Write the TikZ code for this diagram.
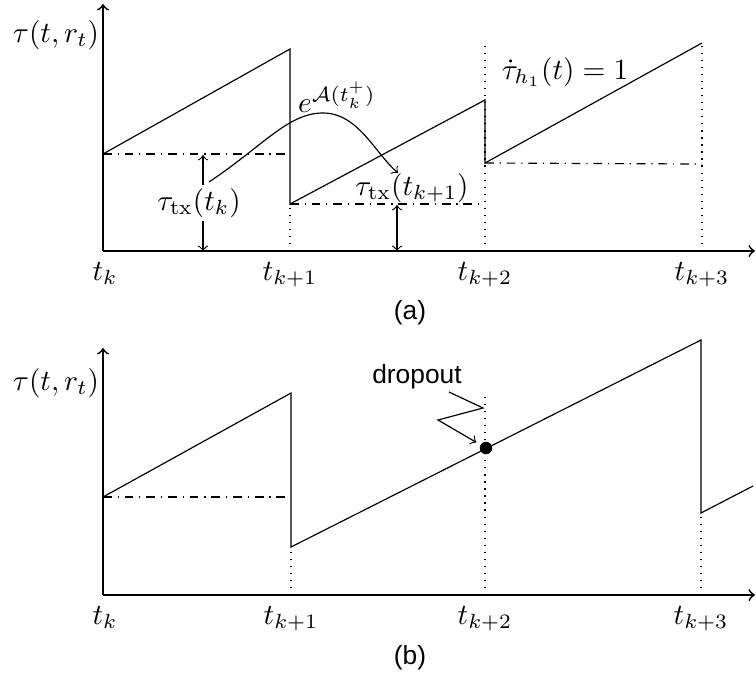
\documentclass[tikz,border=0pt]{standalone}
\usepackage{fontspec}
\newfontfamily\labelfont{Liberation Sans}
\begin{document}
\begin{tikzpicture}[x=1.2cm,y=1.2cm,
		axis/.style={semithick,->},
		level/.style={dash dot},
		guide/.style={dotted},
		sanslabel/.style={font=\labelfont\small}]
	\useasboundingbox (-1.03,-4.28) rectangle (6.53,2.51);
	
	% (a)
	\draw[axis] (0,0) -- (0,2.47);
	\draw[axis] (0,0) -- (6.52,0);
	\node (ya) at (-0.47,2.16) {$\tau(t,r_t)$};
	\foreach \x/\s [count=\i] in {0.02/k,1.87/k+1,3.82/k+2,5.99/k+3}
		\node[anchor=base] (ta\i) at (\x,-0.29) {$t_{\s}$};
	\draw (0,0.97) -- (1.87,2.02) -- (1.87,0.47) -- (3.82,1.51) -- (3.82,0.88) -- (5.99,2.08);
	\draw[level] (0,0.97) -- (1.87,0.97);
	\draw[level] (1.87,0.47) -- (3.82,0.47);
	\draw[level] (3.82,0.88) -- (5.99,0.87);
	\draw[guide] (1.87,0) -- (1.87,0.47);
	\draw[guide] (3.82,0) -- (3.82,2.06);
	\draw[guide] (5.99,0) -- (5.99,2.08);
	
	% intervalos de transmision
	\draw[<->] (1.00,0) -- (1.00,0.96);
	\node[fill=white,inner sep=1pt] (txa) at (0.96,0.48) {$\tau_{\mathrm{tx}}(t_k)$};
	\draw[<->] (2.94,0) -- (2.94,0.46);
	\node[inner sep=1pt] (txb) at (3.09,0.63) {$\tau_{\mathrm{tx}}(t_{k+1})$};
	
	\coordinate (ca) at (1.06,0.69);
	\coordinate (cb) at (2.95,0.78);
	\draw[->] (ca) .. controls (1.6,1.05) and (1.85,1.38) .. (2.20,1.38)
		.. controls (2.55,1.38) and (2.72,0.98) .. (cb);
	\node[inner sep=1pt] (expa) at (2.34,1.54) {$e^{\mathcal{A}(t_k^+)}$};
	\node[inner sep=1pt] (rate) at (4.62,1.79) {$\dot{\tau}_{h_1}(t) = 1$};
	\node[sanslabel] (capa) at (3.07,-0.62) {(a)};
	
	% (b)
	\begin{scope}[shift={(0,-3.44)}]
		\draw[axis] (0,0) -- (0,2.47);
		\draw[axis] (0,0) -- (6.52,0);
		\node (yb) at (-0.47,2.12) {$\tau(t,r_t)$};
		\foreach \x/\s [count=\i] in {0.02/k,1.88/k+1,3.82/k+2,5.98/k+3}
			\node[anchor=base] (tb\i) at (\x,-0.29) {$t_{\s}$};
		\draw (0,0.98) -- (1.88,2.02) -- (1.88,0.48) -- (5.98,2.55) -- (5.98,0.82) -- (6.50,1.09);
		\draw[level] (0,0.98) -- (1.88,0.98);
		\draw[guide] (1.88,0) -- (1.88,0.48);
		\draw[guide] (3.82,0) -- (3.82,2.02);
		\draw[guide] (5.98,0) -- (5.98,0.82);
		
		% dropout
		\node[circle,fill,inner sep=1.5pt] (drop) at (3.83,1.47) {};
		\node[sanslabel] (droplbl) at (3.14,2.18) {dropout};
		\coordinate (za) at (3.46,2.03);
		\draw[->,shorten >=1.5pt] (za) -- (3.80,1.87) -- (3.35,1.75) -- (drop);
		\node[sanslabel] (capb) at (3.07,-0.63) {(b)};
	\end{scope}
\end{tikzpicture}
\end{document}
